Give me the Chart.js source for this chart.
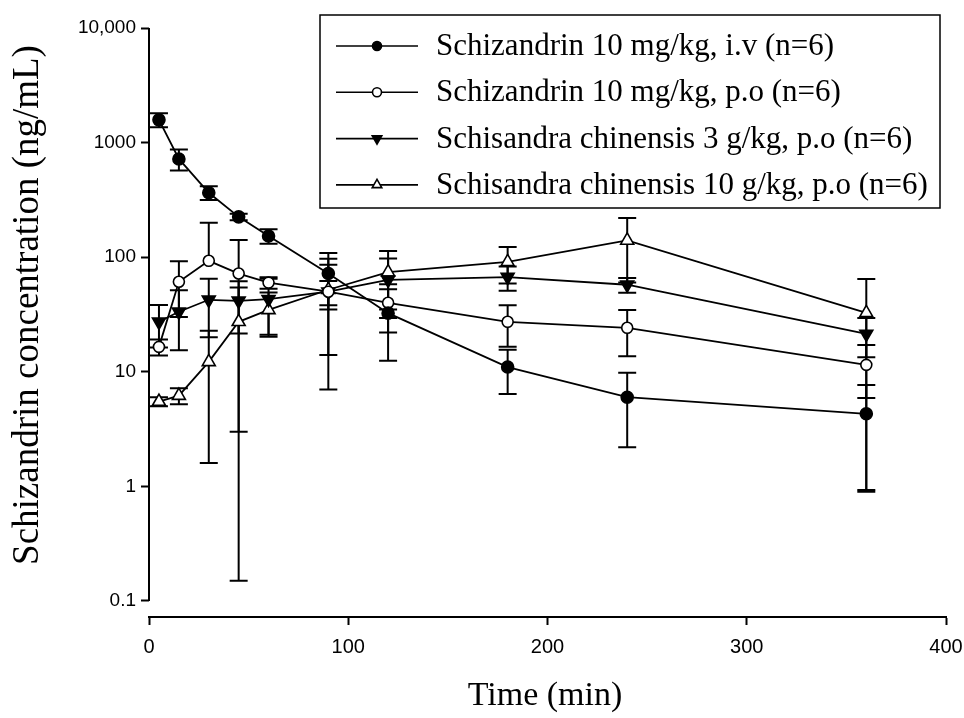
<!DOCTYPE html>
<html>
<head>
<meta charset="utf-8">
<script src="https://cdn.jsdelivr.net/npm/chart.js@4.4.0/dist/chart.umd.min.js"></script>
<style>
  html, body { margin: 0; padding: 0; background: #fff; }
  #c { display: block; }
</style>
</head>
<body>
<canvas id="c" width="964" height="718"></canvas>
<script>
// sampling times (min)
const times = [5, 15, 30, 45, 60, 90, 120, 180, 240, 360];

// mean concentrations (ng/mL) and SD
const ivMean = [1580, 720, 365, 225, 153, 72, 32.5, 11, 6.0, 4.3];
const ivSd = [220, 150, 50, 15, 22, 37, 20, 4.6, 3.8, 3.37];

const poMean = [16.5, 61, 93, 72, 60, 50, 40, 27.3, 24.2, 11.5];
const poSd = [2.6, 31, 107, 69, 7, 12, 18, 10.8, 10.5, 5.6];

const sc3Mean = [27.3, 33.4, 42.5, 41.6, 43, 50, 63.5, 67, 57.5, 21.4];
const sc3Sd = [11, 18, 22.5, 20, 22, 36, 34, 16, 8.5, 8];

const sc10Mean = [5.5, 6.2, 12.2, 27.3, 34.7, 52, 74, 91, 140, 32.7];
const sc10Sd = [0.5, 1, 10.6, 27.15, 14.5, 45, 39, 32, 80, 31.8];

const seriesLabels = [
    'Schizandrin 10 mg/kg, i.v (n=6)',
    'Schizandrin 10 mg/kg, p.o (n=6)',
    'Schisandra chinensis 3 g/kg, p.o (n=6)',
    'Schisandra chinensis 10 g/kg, p.o (n=6)'
];

const yTickValues = [0.1, 1, 10, 100, 1000, 10000];
const yTickLabels = ['0.1', '1', '10', '100', '1000', '10,000'];

const xTitle = 'Time (min)';
const yTitle = 'Schizandrin concentration (ng/mL)';

const toPoints = (means) => times.map((t, i) => ({ x: t, y: means[i] }));

function makeSet(label, means, sds, style, rotation, fill, radius) {
    return {
        label: label,
        data: toPoints(means),
        sd: sds,
        borderColor: '#000',
        borderWidth: 1.8,
        tension: 0,
        pointStyle: style,
        rotation: rotation,
        pointRadius: radius,
        pointHoverRadius: radius,
        pointBackgroundColor: fill,
        pointBorderColor: '#000',
        pointBorderWidth: 1.6
    };
}

// error bars, drawn under the markers
const errorBars = {
    id: 'errorBars',
    beforeDatasetsDraw(chart) {
        const { ctx, scales: { x, y } } = chart;
        ctx.save();
        ctx.strokeStyle = '#000';
        ctx.lineWidth = 2;
        chart.data.datasets.forEach(ds => {
            ds.data.forEach((p, i) => {
                const sd = ds.sd[i];
                const px = x.getPixelForValue(p.x);
                const yHi = y.getPixelForValue(p.y + sd);
                const lo = p.y - sd;
                const yLo = lo > 0 ? y.getPixelForValue(lo) : y.getPixelForValue(p.y);
                ctx.beginPath();
                ctx.moveTo(px, yHi);
                ctx.lineTo(px, yLo);
                ctx.moveTo(px - 9, yHi);
                ctx.lineTo(px + 9, yHi);
                if (lo > 0) {
                    ctx.moveTo(px - 9, yLo);
                    ctx.lineTo(px + 9, yLo);
                }
                ctx.stroke();
            });
        });
        ctx.restore();
    }
};

// y axis line, legend box and axis titles
const decorations = {
    id: 'decorations',
    afterDraw(chart) {
        const { ctx, chartArea, scales: { y } } = chart;
        ctx.save();

        // y axis line stops at 0.1, x axis sits below it
        ctx.strokeStyle = '#000';
        ctx.lineWidth = 2;
        ctx.beginPath();
        ctx.moveTo(chartArea.left, y.getPixelForValue(yTickValues[yTickValues.length - 1]));
        ctx.lineTo(chartArea.left, y.getPixelForValue(yTickValues[0]));
        ctx.stroke();

        // legend
        ctx.fillStyle = '#fff';
        ctx.fillRect(320, 15, 620, 193);
        ctx.lineWidth = 1.5;
        ctx.strokeRect(320, 15, 620, 193);
        ctx.font = '31px "Liberation Serif", "Times New Roman", serif';
        ctx.textBaseline = 'middle';
        ctx.textAlign = 'left';
        chart.data.datasets.forEach((ds, i) => {
            const ly = 46 + i * 46.3;
            ctx.strokeStyle = '#000';
            ctx.lineWidth = 1.6;
            ctx.beginPath();
            ctx.moveTo(336, ly);
            ctx.lineTo(418, ly);
            ctx.stroke();
            ctx.fillStyle = ds.pointBackgroundColor;
            Chart.helpers.drawPoint(ctx, {
                pointStyle: ds.pointStyle,
                rotation: ds.rotation,
                radius: ds.pointStyle === 'triangle' ? 5.5 : 4.5,
                borderWidth: 1.5
            }, 377, ly);
            ctx.fillStyle = '#000';
            ctx.fillText(ds.label, 436, ly + 1);
        });

        // axis titles
        ctx.fillStyle = '#000';
        ctx.textAlign = 'center';
        ctx.font = '34px "Liberation Serif", "Times New Roman", serif';
        ctx.fillText(xTitle, 545, 696);
        ctx.translate(28, 305);
        ctx.rotate(-Math.PI / 2);
        ctx.font = '37px "Liberation Serif", "Times New Roman", serif';
        ctx.fillText(yTitle, 0, 0);
        ctx.restore();
    }
};

new Chart(document.getElementById('c'), {
    type: 'line',
    data: {
        datasets: [
            makeSet(seriesLabels[0], ivMean, ivSd, 'circle', 0, '#000', 6),
            makeSet(seriesLabels[1], poMean, poSd, 'circle', 0, '#fff', 5.5),
            makeSet(seriesLabels[2], sc3Mean, sc3Sd, 'triangle', 180, '#000', 7.5),
            makeSet(seriesLabels[3], sc10Mean, sc10Sd, 'triangle', 0, '#fff', 7.5)
        ]
    },
    options: {
        responsive: false,
        animation: false,
        devicePixelRatio: 1,
        layout: { padding: { left: 0, right: 18, top: 28, bottom: 0 } },
        plugins: {
            legend: { display: false },
            tooltip: { enabled: false }
        },
        scales: {
            x: {
                type: 'linear',
                min: 0,
                max: 400,
                ticks: {
                    stepSize: 100,
                    color: '#000',
                    padding: 10,
                    font: { family: '"Liberation Sans", Arial, sans-serif', size: 20 }
                },
                grid: { display: true, drawOnChartArea: false, drawTicks: true, tickLength: 8, tickWidth: 2, color: '#000' },
                border: { display: true, color: '#000', width: 2 },
                afterFit(scale) { scale.height = 101; scale.paddingLeft = 0; scale.paddingRight = 0; }
            },
            y: {
                type: 'logarithmic',
                min: 0.0725,
                max: 10000,
                afterBuildTicks(scale) {
                    scale.ticks = yTickValues.map(v => ({ value: v }));
                },
                ticks: {
                    autoSkip: false,
                    color: '#000',
                    padding: 5,
                    font: { family: '"Liberation Sans", Arial, sans-serif', size: 19 },
                    callback: (v) => yTickLabels[yTickValues.indexOf(v)]
                },
                grid: { display: true, drawOnChartArea: false, drawTicks: true, tickLength: 8, tickWidth: 2, color: '#000' },
                border: { display: false },
                afterFit(scale) { scale.width = 149; }
            }
        }
    },
    plugins: [errorBars, decorations]
});
</script>
</body>
</html>
